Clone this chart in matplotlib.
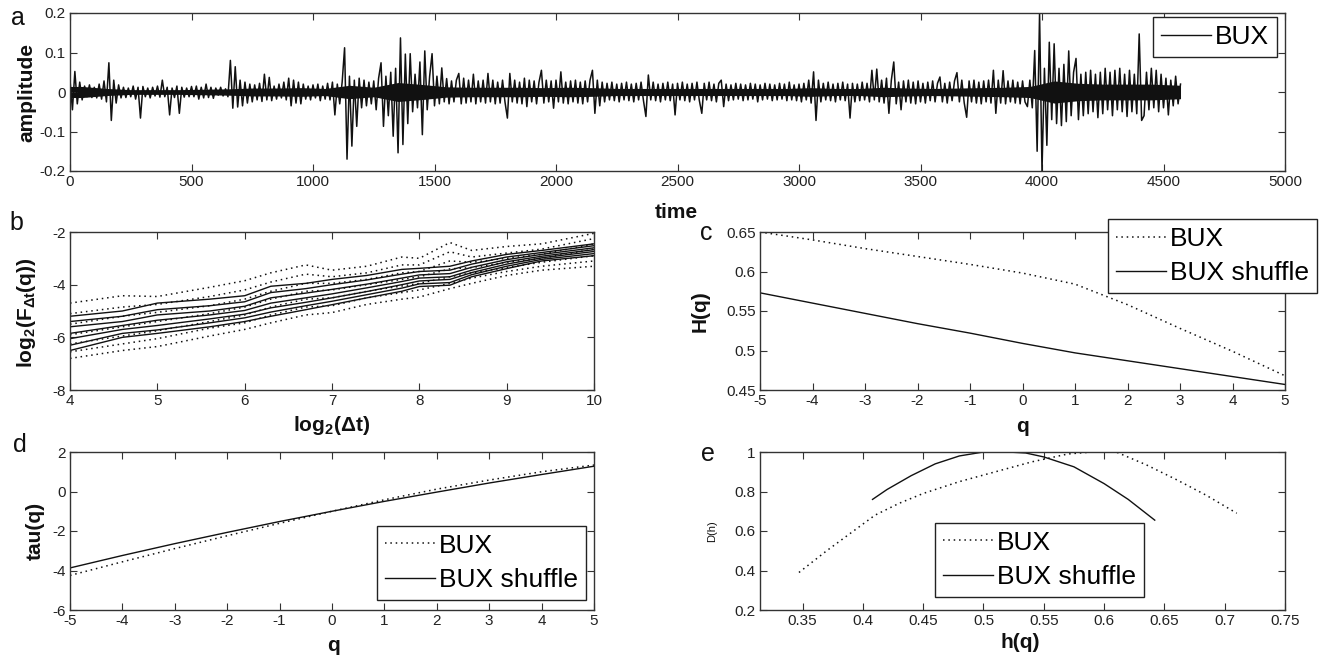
import numpy as np
import matplotlib
matplotlib.use("Agg")
import matplotlib.pyplot as plt
from matplotlib.lines import Line2D

plt.rcParams['font.family'] = ['Liberation Sans', 'DejaVu Sans']
plt.rcParams['axes.unicode_minus'] = False
plt.rcParams['mathtext.fontset'] = 'custom'
plt.rcParams['mathtext.rm'] = 'Liberation Sans'
plt.rcParams['mathtext.it'] = 'Liberation Sans'
plt.rcParams['mathtext.bf'] = 'Liberation Sans:bold'
plt.rcParams['mathtext.default'] = 'regular'

# ---------------- data ----------------
# panel a: BUX returns, read every 10 time units (thousandths)
time_step = 10
amp_milli = [
    30, -45, 52, -30, 25, -20, 15, -12, 18, -14,
    12, -15, 20, -18, 28, -25, 74, -72, 30, -28,
    18, -15, 12, -14, 10, -12, 15, -18, 12, -66,
    14, -12, 10, -15, 12, -10, 15, -13, 30, -12,
    12, -58, 10, -14, 15, -54, 12, -13, 10, -12,
    14, -12, 15, -18, 12, -15, 20, -14, 12, -16,
    10, -8, 12, -10, 8, -12, 80, -41, 64, -38,
    30, -35, 25, -28, 20, -25, 18, -20, 22, -24,
    45, -20, 37, -22, 15, -18, 20, -15, 25, -20,
    35, -35, 30, -28, 25, -30, 20, -18, 15, -20,
    18, -15, 20, -22, 15, -18, 22, -20, 25, -58,
    20, -30, 25, 112, -170, 40, -137, 30, -87, 35,
    -40, 30, -35, 25, -30, 28, -45, 35, 74, -87,
    40, -60, 50, -112, 60, -154, 137, -133, 96, -80,
    97, -50, 45, -40, 76, -108, 104, -45, 40, 97,
    -35, 40, -30, 61, -25, 34, -30, 28, -25, 30,
    47, -30, 35, -28, 30, -25, 45, -30, 28, -25,
    30, -28, 47, -25, 30, -30, 25, -28, 30, -25,
    -66, 47, -25, 30, -28, 25, -30, 35, -37, 30,
    -25, 28, -30, 25, 55, -28, 30, -25, 28, -41,
    30, -25, 51, -28, 25, -30, 28, -25, 30, -28,
    25, -30, 28, -25, 30, 55, -54, 30, -35, 25,
    -25, 22, -20, 25, -22, 20, -25, 22, -20, 25,
    -22, 20, -25, 22, -20, 25, -22, -62, 43, -20,
    25, -22, 20, -25, 22, -20, 25, -22, 20, -58,
    22, -20, 25, -22, 20, -25, 22, -20, 25, -22,
    -54, 22, -20, 25, -22, 20, -25, 22, 30, -37,
    20, -22, 18, -20, 22, -18, 20, -22, 18, -20,
    22, -18, 20, -25, 18, -20, 22, -18, 20, -22,
    18, -20, 22, -18, 20, -22, 25, -20, 18, -22,
    20, -25, 22, -20, 30, -28, 51, -72, 30, -25,
    22, -20, 25, -22, 20, -25, 22, -20, 25, -22,
    20, -66, 22, -25, 20, -22, 25, -20, 22, -25,
    55, -20, 58, -25, 30, -28, 35, -54, 30, 76,
    -30, 25, -45, 28, -25, 30, -28, 25, -30, 28,
    -25, 22, -28, 25, -22, 28, -25, 22, 38, -25,
    22, -28, 25, -22, 28, 49, -25, 30, -28, -64,
    28, -25, 30, -28, 25, -30, 28, -25, 30, -28,
    55, -54, 30, -28, 54, -30, 28, -25, 30, -28,
    25, -30, 28, -25, -37, 30, -40, 105, -150, 200,
    -200, 60, -135, 126, -70, 122, -80, 60, -85, 70,
    -75, 104, -60, 50, 85, -70, 45, -60, 50, -55,
    55, -50, 45, -65, 50, -55, 60, -45, 50, -60,
    55, -45, 60, -50, 45, -62, 55, -50, 45, -55,
    147, -72, -60, 50, -45, 60, -40, 55, -50, 45,
    -40, 35, -58, 30, -35, 40, -30, 20,
]
# half-width of the solid black core of the trace, per 100 time units (thousandths)
band_step = 100
band_milli = [
    14, 9, 6, 6, 6, 7, 8, 10, 10, 11,
    9, 17, 12, 24, 19, 13, 12, 12, 12, 11,
    12, 11, 9, 9, 9, 9, 9, 9, 9, 9,
    11, 9, 9, 12, 10, 9, 10, 11, 12, 14,
    28, 22, 20, 20, 20, 17,
]

# panel b: log2(F) vs log2(dt)
log2_dt = [4, 4.6, 5, 5.6, 6, 6.3, 6.7, 7, 7.4, 7.8, 8, 8.35, 8.6, 9, 9.4, 10]
F_solid_1 = [-5.2, -5.0, -4.7, -4.55, -4.42, -4.06, -3.95, -3.8, -3.65, -3.42, -3.38, -3.3, -3.1, -2.85, -2.7, -2.45]
F_solid_2 = [-5.4, -5.2, -4.95, -4.8, -4.65, -4.3, -4.15, -4.0, -3.82, -3.6, -3.5, -3.45, -3.22, -2.95, -2.78, -2.52]
F_solid_3 = [-5.6, -5.4, -5.15, -5.0, -4.82, -4.5, -4.32, -4.18, -3.98, -3.75, -3.63, -3.58, -3.34, -3.05, -2.85, -2.6]
F_solid_4 = [-5.85, -5.55, -5.35, -5.15, -4.98, -4.7, -4.5, -4.35, -4.12, -3.88, -3.75, -3.7, -3.45, -3.13, -2.92, -2.67]
F_solid_5 = [-6.05, -5.7, -5.55, -5.3, -5.12, -4.88, -4.67, -4.5, -4.26, -4.0, -3.86, -3.8, -3.54, -3.22, -2.98, -2.74]
F_solid_6 = [-6.3, -5.85, -5.72, -5.45, -5.26, -5.04, -4.8, -4.63, -4.38, -4.13, -3.97, -3.92, -3.62, -3.3, -3.04, -2.82]
F_solid_7 = [-6.5, -6.0, -5.85, -5.6, -5.4, -5.2, -4.95, -4.76, -4.5, -4.25, -4.07, -4.02, -3.7, -3.39, -3.1, -2.9]
F_dot_1 = [-4.7, -4.42, -4.45, -4.1, -3.85, -3.55, -3.25, -3.45, -3.3, -2.95, -3.0, -2.4, -2.7, -2.55, -2.45, -2.05]
F_dot_2 = [-5.1, -4.85, -4.75, -4.45, -4.2, -3.9, -3.6, -3.7, -3.55, -3.25, -3.25, -2.75, -2.95, -2.8, -2.65, -2.25]
F_dot_3 = [-5.5, -5.2, -5.05, -4.8, -4.55, -4.25, -3.95, -3.95, -3.8, -3.55, -3.5, -3.1, -3.15, -3.0, -2.85, -2.45]
F_dot_4 = [-5.9, -5.6, -5.4, -5.1, -4.85, -4.55, -4.25, -4.2, -4.0, -3.8, -3.7, -3.4, -3.35, -3.15, -3.0, -2.65]
F_dot_5 = [-6.25, -5.95, -5.75, -5.4, -5.15, -4.85, -4.55, -4.5, -4.25, -4.05, -3.95, -3.7, -3.55, -3.35, -3.15, -2.9]
F_dot_6 = [-6.55, -6.25, -6.05, -5.65, -5.45, -5.15, -4.85, -4.8, -4.5, -4.3, -4.2, -3.95, -3.75, -3.5, -3.3, -3.1]
F_dot_7 = [-6.8, -6.5, -6.35, -5.95, -5.7, -5.45, -5.15, -5.06, -4.75, -4.55, -4.47, -4.15, -3.95, -3.65, -3.45, -3.3]

# panel c / d: generalized Hurst exponent and tau
q_vals = [-5, -4, -3, -2, -1, 0, 1, 2, 3, 4, 5]
H_bux = [0.650, 0.640, 0.629, 0.619, 0.609, 0.598, 0.584, 0.558, 0.528, 0.499, 0.468]
H_shuffle = [0.573, 0.560, 0.547, 0.534, 0.522, 0.509, 0.497, 0.487, 0.477, 0.467, 0.457]
tau_bux = [-4.25, -3.56, -2.89, -2.24, -1.61, -1.0, -0.42, 0.12, 0.58, 1.0, 1.34]
tau_shuffle = [-3.87, -3.24, -2.64, -2.07, -1.52, -1.0, -0.50, -0.03, 0.43, 0.86, 1.28]

# panel e: singularity spectrum
h_bux = [0.347, 0.37, 0.39, 0.41, 0.43, 0.45, 0.48, 0.51, 0.54, 0.57, 0.59, 0.61, 0.635, 0.66, 0.685, 0.71]
D_bux = [0.39, 0.50, 0.59, 0.68, 0.74, 0.79, 0.85, 0.90, 0.95, 0.99, 1.0, 1.0, 0.935, 0.86, 0.78, 0.69]
h_shuffle = [0.408, 0.42, 0.44, 0.46, 0.48, 0.50, 0.52, 0.535, 0.55, 0.575, 0.60, 0.62, 0.642]
D_shuffle = [0.76, 0.81, 0.88, 0.94, 0.98, 1.0, 1.0, 0.995, 0.975, 0.925, 0.84, 0.76, 0.655]

# ---------------- figure ----------------
W, H = 1319, 666
fig = plt.figure(figsize=(W / 100, H / 100), dpi=100)
fig.patch.set_facecolor('white')

INK = '#111111'
DOT = (0, (1, 2.5))


def add_axes(l, r, t, b):
    return fig.add_axes([l / W, 1 - b / H, (r - l) / W, (b - t) / H])


def style(ax):
    ax.tick_params(direction='in', top=True, right=True, length=5, width=0.8,
                   labelsize=11, pad=3, color='#333333', labelcolor='#222222')
    for s in ax.spines.values():
        s.set_linewidth(1.0)
        s.set_color('#333333')


def ftext(x, y, s, size=15, va='center', weight='bold', **kw):
    fig.text(x / W, 1 - y / H, s, fontsize=size, ha='center', va=va,
             color='#111111', fontweight=weight, **kw)


def legend(ax, handles, labels, x, y, loc):
    leg = ax.legend(handles, labels, loc=loc, bbox_to_anchor=(x / W, 1 - y / H),
                    bbox_transform=fig.transFigure, fontsize=19, frameon=True,
                    fancybox=False, edgecolor='#222222', facecolor='white', framealpha=1,
                    handlelength=1.9, handletextpad=0.15, borderpad=0.3,
                    labelspacing=0.4, borderaxespad=0)
    leg.get_frame().set_linewidth(1.0)
    leg.set_zorder(10)
    return leg


solid_h = Line2D([], [], color=INK, lw=1.0)
dot_h = Line2D([], [], color=INK, lw=1.1, linestyle=DOT)

# ---- panel a ----
axa = add_axes(70, 1285, 13, 171)
amp = np.array(amp_milli) / 1000.0
t = np.arange(len(amp)) * time_step
band = np.array(band_milli) / 1000.0
tb = np.arange(len(band)) * band_step + band_step / 2
tb[-1] = (len(amp) - 1) * time_step
tb = np.concatenate([[0], tb])
band = np.concatenate([[band[0]], band])
axa.fill_between(tb, -band, band, color=INK, lw=0)
axa.plot(t, amp, color=INK, lw=1.1)
axa.set_xlim(0, 5000)
axa.set_ylim(-0.2, 0.2)
axa.set_xticks(np.arange(0, 5001, 500))
axa.set_yticks([-0.2, -0.1, 0, 0.1, 0.2])
axa.set_yticklabels(['-0.2', '-0.1', '0', '0.1', '0.2'])
style(axa)
legend(axa, [solid_h], ['BUX'], 1277, 17, 'upper right')

# ---- panel b ----
axb = add_axes(70, 594, 232, 390)
for ys in [F_dot_1, F_dot_2, F_dot_3, F_dot_4, F_dot_5, F_dot_6, F_dot_7]:
    axb.plot(log2_dt, ys, color=INK, lw=1.1, linestyle=DOT)
for ys in [F_solid_1, F_solid_2, F_solid_3, F_solid_4, F_solid_5, F_solid_6, F_solid_7]:
    axb.plot(log2_dt, ys, color=INK, lw=1.0)
axb.set_xlim(4, 10)
axb.set_ylim(-8, -2)
axb.set_xticks(range(4, 11))
axb.set_yticks([-8, -6, -4, -2])
style(axb)

# ---- panel c ----
axc = add_axes(760, 1285, 232, 390)
axc.plot(q_vals, H_bux, color=INK, lw=1.1, linestyle=DOT)
axc.plot(q_vals, H_shuffle, color=INK, lw=1.0)
axc.set_xlim(-5, 5)
axc.set_ylim(0.45, 0.65)
axc.set_xticks(range(-5, 6))
axc.set_yticks([0.45, 0.5, 0.55, 0.6, 0.65])
axc.set_yticklabels(['0.45', '0.5', '0.55', '0.6', '0.65'])
style(axc)
legend(axc, [dot_h, solid_h], ['BUX', 'BUX shuffle'], 1317, 219, 'upper right')

# ---- panel d ----
axd = add_axes(70, 594, 452, 610)
axd.plot(q_vals, tau_bux, color=INK, lw=1.1, linestyle=DOT)
axd.plot(q_vals, tau_shuffle, color=INK, lw=1.0)
axd.set_xlim(-5, 5)
axd.set_ylim(-6, 2)
axd.set_xticks(range(-5, 6))
axd.set_yticks([-6, -4, -2, 0, 2])
style(axd)
legend(axd, [dot_h, solid_h], ['BUX', 'BUX shuffle'], 586, 600, 'lower right')

# ---- panel e ----
axe = add_axes(760, 1285, 452, 610)
axe.plot(h_bux, D_bux, color=INK, lw=1.1, linestyle=DOT)
axe.plot(h_shuffle, D_shuffle, color=INK, lw=1.0)
axe.set_xlim(0.3147, 0.75)
axe.set_ylim(0.2, 1.0)
axe.set_xticks([0.35, 0.4, 0.45, 0.5, 0.55, 0.6, 0.65, 0.7, 0.75])
axe.set_xticklabels(['0.35', '0.4', '0.45', '0.5', '0.55', '0.6', '0.65', '0.7', '0.75'])
axe.set_yticks([0.2, 0.4, 0.6, 0.8, 1.0])
axe.set_yticklabels(['0.2', '0.4', '0.6', '0.8', '1'])
style(axe)
legend(axe, [dot_h, solid_h], ['BUX', 'BUX shuffle'], 935, 597, 'lower left')

# ---- text labels ----
for letter, x, y in [('a', 18, 25), ('b', 16, 230), ('c', 706, 240), ('d', 20, 452), ('e', 708, 461)]:
    ftext(x, y, letter, size=18, va='baseline', weight='normal')

ftext(27, 92, 'amplitude', rotation=90)
ftext(676, 218, 'time', va='baseline')
ftext(26, 313, r'log$_2$(F$_{\Delta t}$(q))', rotation=90)
ftext(332, 431, r'log$_2$($\Delta$t)', va='baseline')
ftext(700, 311, 'H(q)', rotation=90)
ftext(1022, 432, 'q', va='baseline')
ftext(35, 531, 'tau(q)', rotation=90)
ftext(334, 651, 'q', va='baseline')
ftext(712, 531, 'D(h)', size=8, rotation=90, weight='normal')
ftext(1020, 648, 'h(q)', va='baseline')

fig.savefig('out.png', dpi=100, facecolor='white')
